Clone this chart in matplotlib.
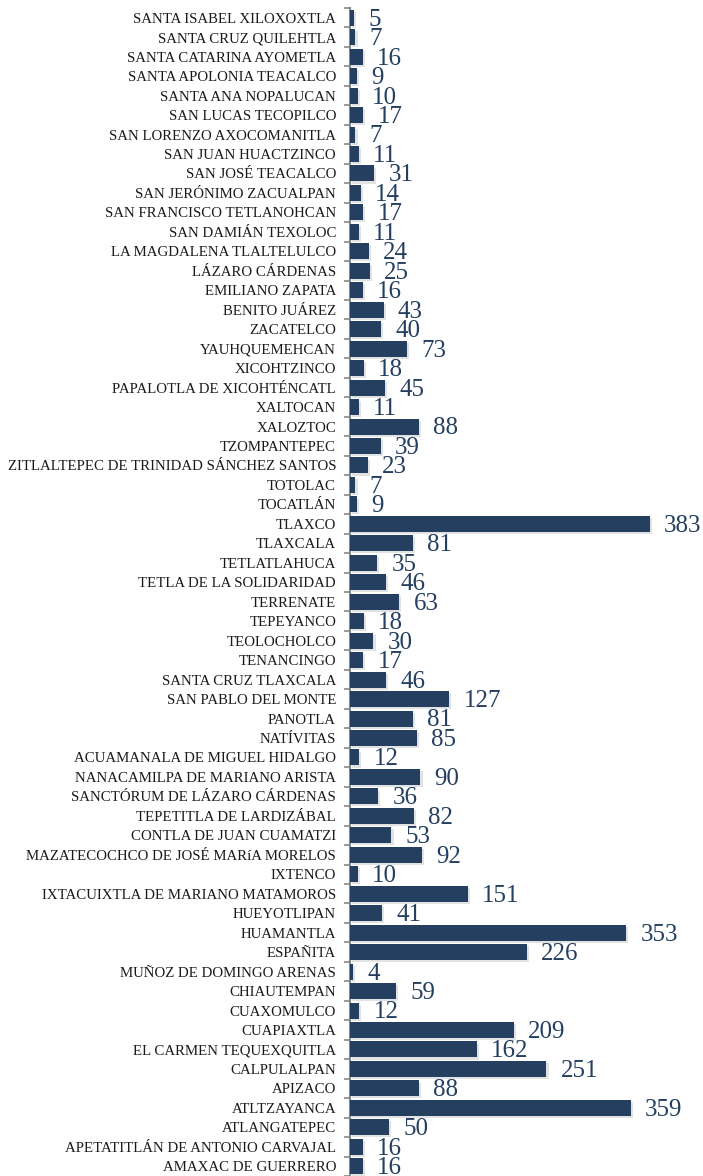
import numpy as np
import matplotlib
matplotlib.use("Agg")
import matplotlib.pyplot as plt
import matplotlib.patheffects as pe

# municipios, de arriba hacia abajo
municipios = [
    "SANTA ISABEL XILOXOXTLA", "SANTA CRUZ QUILEHTLA", "SANTA CATARINA AYOMETLA",
    "SANTA APOLONIA TEACALCO", "SANTA ANA NOPALUCAN", "SAN LUCAS TECOPILCO",
    "SAN LORENZO AXOCOMANITLA", "SAN JUAN HUACTZINCO", "SAN JOSÉ TEACALCO",
    "SAN JERÓNIMO ZACUALPAN", "SAN FRANCISCO TETLANOHCAN", "SAN DAMIÁN TEXOLOC",
    "LA MAGDALENA TLALTELULCO", "LÁZARO CÁRDENAS", "EMILIANO ZAPATA",
    "BENITO JUÁREZ", "ZACATELCO", "YAUHQUEMEHCAN", "XICOHTZINCO",
    "PAPALOTLA DE XICOHTÉNCATL", "XALTOCAN", "XALOZTOC", "TZOMPANTEPEC",
    "ZITLALTEPEC DE TRINIDAD SÁNCHEZ SANTOS", "TOTOLAC", "TOCATLÁN", "TLAXCO",
    "TLAXCALA", "TETLATLAHUCA", "TETLA DE LA SOLIDARIDAD", "TERRENATE",
    "TEPEYANCO", "TEOLOCHOLCO", "TENANCINGO", "SANTA CRUZ TLAXCALA",
    "SAN PABLO DEL MONTE", "PANOTLA", "NATÍVITAS", "ACUAMANALA DE MIGUEL HIDALGO",
    "NANACAMILPA DE MARIANO ARISTA", "SANCTÓRUM DE LÁZARO CÁRDENAS",
    "TEPETITLA DE LARDIZÁBAL", "CONTLA DE JUAN CUAMATZI",
    "MAZATECOCHCO DE JOSÉ MARíA MORELOS", "IXTENCO",
    "IXTACUIXTLA DE MARIANO MATAMOROS", "HUEYOTLIPAN", "HUAMANTLA", "ESPAÑITA",
    "MUÑOZ DE DOMINGO ARENAS", "CHIAUTEMPAN", "CUAXOMULCO", "CUAPIAXTLA",
    "EL CARMEN TEQUEXQUITLA", "CALPULALPAN", "APIZACO", "ATLTZAYANCA",
    "ATLANGATEPEC", "APETATITLÁN DE ANTONIO CARVAJAL", "AMAXAC DE GUERRERO",
]
valores = [
    5, 7, 16, 9, 10, 17, 7, 11, 31, 14, 17, 11, 24, 25, 16, 43, 40, 73, 18, 45,
    11, 88, 39, 23, 7, 9, 383, 81, 35, 46, 63, 18, 30, 17, 46, 127, 81, 85, 12,
    90, 36, 82, 53, 92, 10, 151, 41, 353, 226, 4, 59, 12, 209, 162, 251, 88,
    359, 50, 16, 16,
]

color_barra = "#243F60"
color_eje = "#888888"

fig = plt.figure(figsize=(7.03, 11.76), dpi=100)
ax = fig.add_axes([350 / 703, 0.0, 353 / 703, 1168 / 1176])

n = len(municipios)
y = np.arange(n)[::-1]
barras = ax.barh(y, valores, height=0.82, color=color_barra, zorder=3)
for b in barras:
    b.set_path_effects([pe.SimplePatchShadow(offset=(1.5, -1.5), alpha=0.12),
                        pe.Normal()])

for yi, v in zip(y, valores):
    ax.text(v + 18, yi - 0.1, str(v), ha="left", va="center",
            fontsize=18, family="Liberation Serif", color=color_barra)

ax.set_xlim(0, 451)
ax.set_ylim(-0.5, n - 0.5)
ax.set_yticks(y)
ax.set_yticklabels(municipios, family="Liberation Serif", fontsize=10.7,
                   color="#1a1a1a")
ax.set_yticks(np.arange(n + 1) - 0.5, minor=True)
ax.tick_params(axis="y", which="major", length=0, pad=10)
ax.tick_params(axis="y", which="minor", length=4, width=1.2,
               color=color_eje, direction="out")
ax.set_xticks([])

for s in ["top", "right", "bottom"]:
    ax.spines[s].set_visible(False)
ax.spines["left"].set_color(color_eje)
ax.spines["left"].set_linewidth(1.5)

fig.savefig("out.png", dpi=100)
